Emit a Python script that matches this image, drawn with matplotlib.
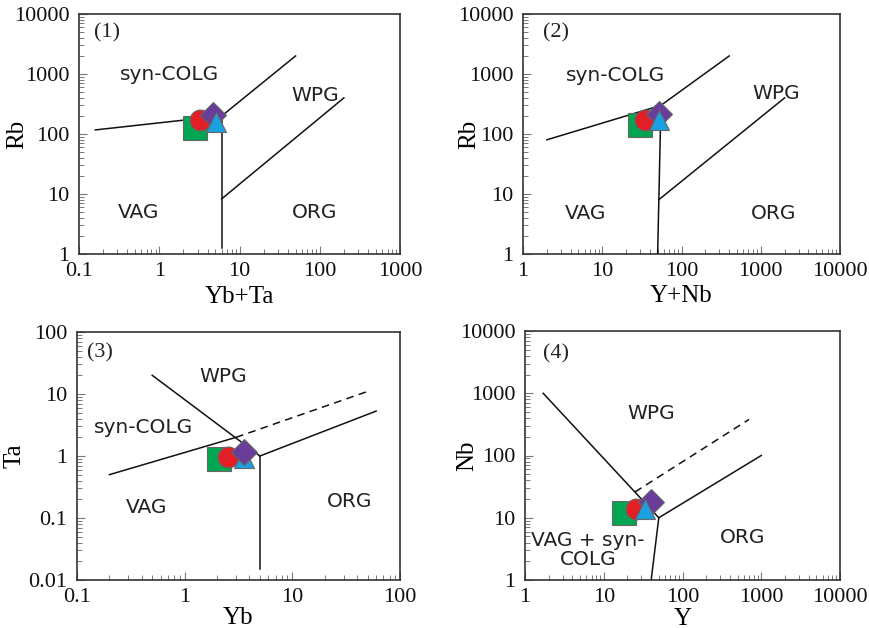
import matplotlib.pyplot as plt
from matplotlib.ticker import LogLocator, FuncFormatter, NullFormatter

# sample groups: square, circle, diamond, triangle
colors = ['#00a651', '#e31e24', '#6a3d9a', '#1ba1e2']
markers = ['s', 'o', 'D', '^']
sizes = [17, 15, 13, 15]

# (1) Rb vs Yb+Ta
p1_x = [2.8, 3.2, 4.7, 5.1]
p1_y = [126, 171, 208, 158]
p1_solid = [
    ([0.16, 6], [117, 200]),
    ([6, 50], [200, 2000]),
    ([6, 6], [1.25, 200]),
    ([6, 200], [8.3, 400]),
]
# (2) Rb vs Y+Nb
p2_x = [30, 35, 52, 52]
p2_y = [141, 170, 215, 170]
p2_solid = [
    ([2, 55], [80, 300]),
    ([55, 400], [300, 2000]),
    ([50, 55], [1, 300]),
    ([51.5, 2000], [8, 400]),
]
# (3) Ta vs Yb
p3_x = [2.08, 2.5, 3.55, 3.55]
p3_y = [0.89, 0.96, 1.16, 0.93]
p3_solid = [
    ([0.2, 3], [0.5, 2]),
    ([0.5, 5], [20, 1]),
    ([5, 60], [1, 5.3]),
    ([5, 5], [1, 0.015]),
]
p3_dash = [([3, 50], [2, 11])]
# (4) Nb vs Y
p4_x = [18, 26, 40, 33]
p4_y = [11.9, 13.8, 18, 13.8]
p4_solid = [
    ([1.7, 50], [1000, 10]),
    ([50, 1000], [10, 100]),
    ([50, 40], [10, 1]),
]
p4_dash = [([25, 700], [26, 380])]

panels = [
    dict(box=(79, 14, 400, 254), x=p1_x, y=p1_y, solid=p1_solid, dash=[],
         xlim=(0.1, 1000), ylim=(1, 10000), xlabel='Yb+Ta', ylabel='Rb', tag='(1)',
         tagpos=(0.087, 0.92), xlab_y=-0.179, ylab_x=-0.193,
         labels=[('syn-COLG', 0.283, 0.746), ('WPG', 0.735, 0.66),
                 ('VAG', 0.184, 0.175), ('ORG', 0.734, 0.175)],
         order=[0, 1, 2, 3]),
    dict(box=(523, 14, 840, 254), x=p2_x, y=p2_y, solid=p2_solid, dash=[],
         xlim=(1, 10000), ylim=(1, 10000), xlabel='Y+Nb', ylabel='Rb', tag='(2)',
         tagpos=(0.104, 0.92), xlab_y=-0.175, ylab_x=-0.17,
         labels=[('syn-COLG', 0.293, 0.742), ('WPG', 0.8, 0.667),
                 ('VAG', 0.196, 0.17), ('ORG', 0.79, 0.17)],
         order=[0, 1, 2, 3]),
    dict(box=(77, 332, 400, 580), x=p3_x, y=p3_y, solid=p3_solid, dash=p3_dash,
         xlim=(0.1, 100), ylim=(0.01, 100), xlabel='Yb', ylabel='Ta', tag='(3)',
         tagpos=(0.071, 0.915), xlab_y=-0.155, ylab_x=-0.192,
         labels=[('WPG', 0.452, 0.82), ('syn-COLG', 0.205, 0.613),
                 ('VAG', 0.216, 0.294), ('ORG', 0.845, 0.315)],
         order=[0, 1, 3, 2]),
    dict(box=(525, 331, 840, 580), x=p4_x, y=p4_y, solid=p4_solid, dash=p4_dash,
         xlim=(1, 10000), ylim=(1, 10000), xlabel='Y', ylabel='Nb', tag='(4)',
         tagpos=(0.1, 0.91), xlab_y=-0.155, ylab_x=-0.184,
         labels=[('WPG', 0.4, 0.67), ('VAG + syn-\nCOLG', 0.2, 0.12),
                 ('ORG', 0.69, 0.17)],
         order=[0, 1, 2, 3]),
]

W, H = 869, 628
fig = plt.figure(figsize=(W / 100, H / 100), dpi=100)
serif = 'Liberation Serif'
fmt = FuncFormatter(lambda v, p: f'{v:g}')

for pn in panels:
    l, t, r, b = pn['box']
    ax = fig.add_axes([l / W, 1 - b / H, (r - l) / W, (b - t) / H])
    ax.set_xscale('log')
    ax.set_yscale('log')
    ax.set_xlim(*pn['xlim'])
    ax.set_ylim(*pn['ylim'])

    for xs, ys in pn['solid']:
        ax.plot(xs, ys, color='#111111', lw=1.1, zorder=2)
    for xs, ys in pn['dash']:
        ax.plot(xs, ys, color='#111111', lw=1.1, ls=(0, (5, 3.5)), zorder=2)

    for k, i in enumerate(pn['order']):
        ax.plot(pn['x'][i], pn['y'][i], marker=markers[i], ms=sizes[i],
                mfc=colors[i], mec='#666666', mew=0.8, ls='none', zorder=3 + k)

    for txt, fx, fy in pn['labels']:
        ax.text(fx, fy, txt, transform=ax.transAxes, ha='center', va='center',
                fontsize=14.5, color='#222222', family='DejaVu Sans',
                linespacing=1.05)
    ax.text(pn['tagpos'][0], pn['tagpos'][1], pn['tag'], transform=ax.transAxes,
            ha='center', va='center', fontsize=16, family=serif, color='#222222')

    ax.xaxis.set_major_locator(LogLocator(base=10, numticks=20))
    ax.yaxis.set_major_locator(LogLocator(base=10, numticks=20))
    ax.xaxis.set_minor_locator(LogLocator(base=10, subs=range(2, 10), numticks=20))
    ax.yaxis.set_minor_locator(LogLocator(base=10, subs=range(2, 10), numticks=20))
    ax.xaxis.set_major_formatter(fmt)
    ax.yaxis.set_major_formatter(fmt)
    ax.xaxis.set_minor_formatter(NullFormatter())
    ax.yaxis.set_minor_formatter(NullFormatter())
    ax.tick_params(which='both', direction='in', colors='#777777',
                   labelcolor='#111111', top=False, right=False)
    ax.tick_params(which='major', length=6, width=0.8, labelsize=16)
    ax.tick_params(axis='x', which='major', pad=6)
    ax.tick_params(axis='y', which='major', pad=7)
    ax.tick_params(which='minor', length=3.5, width=0.7)
    for lab in ax.get_xticklabels() + ax.get_yticklabels():
        lab.set_family(serif)
    for s in ax.spines.values():
        s.set_color('#333333')
        s.set_linewidth(1.2)

    ax.set_xlabel(pn['xlabel'], fontsize=18, family=serif)
    ax.set_ylabel(pn['ylabel'], fontsize=18, family=serif)
    ax.xaxis.set_label_coords(0.5, pn['xlab_y'])
    ax.yaxis.set_label_coords(pn['ylab_x'], 0.5)
    ax.xaxis.label.set_va('center')
    ax.yaxis.label.set_va('center')

fig.savefig('out.png', dpi=100)
